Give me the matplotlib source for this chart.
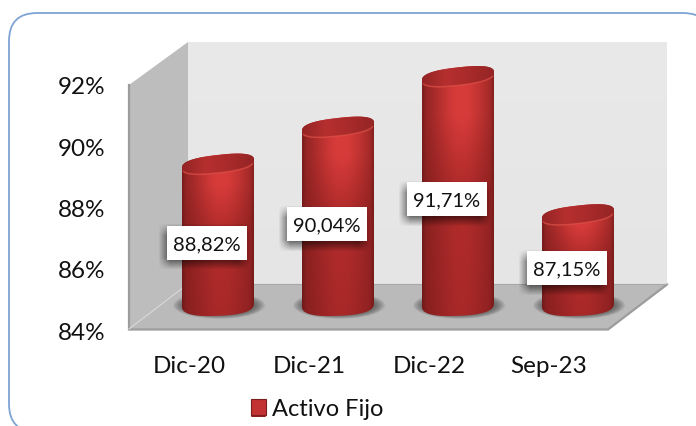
import numpy as np
import matplotlib
matplotlib.use("Agg")
import matplotlib.pyplot as plt
from matplotlib.patches import FancyBboxPatch, Polygon, Ellipse, Rectangle, Patch, PathPatch
from matplotlib.path import Path
from matplotlib.colors import LinearSegmentedColormap

categories = ["Dic-20", "Dic-21", "Dic-22", "Sep-23"]
values = [88.82, 90.04, 91.71, 87.15]
value_labels = ["88,82%", "90,04%", "91,71%", "87,15%"]
y_ticks = [84, 86, 88, 90, 92]
y_tick_labels = ["84%", "86%", "88%", "90%", "92%"]
series_name = "Activo Fijo"

FONT = "Lato"
W, H = 696, 426
plt.rcParams["font.family"] = [FONT, "DejaVu Sans"]
fig = plt.figure(figsize=(W / 100, H / 100), dpi=100, facecolor="white")


def axes_px(x0, x1, ytop, ybot, z):
    a = fig.add_axes([x0 / W, 1 - ybot / H, (x1 - x0) / W, (ybot - ytop) / H], zorder=z)
    a.patch.set_alpha(0)
    for s in a.spines.values():
        s.set_visible(False)
    return a


# ---- scene backdrop, in pixel coordinates
bg = axes_px(0, W, 0, H, 0)
bg.set_xlim(0, W)
bg.set_ylim(H, 0)
bg.axis("off")
bg.add_patch(FancyBboxPatch((9, 13), 702, 419, boxstyle="round,pad=0,rounding_size=28",
                            fc="white", ec="#7fa3d3", lw=1.3))
back = bg.imshow(np.linspace(0.91, 0.895, 64).reshape(-1, 1), cmap="gray", vmin=0, vmax=1,
                 extent=(188, 667, 284, 42), aspect="auto", zorder=2)
bg.set_xlim(0, W)
bg.set_ylim(H, 0)
bg.add_patch(Polygon([(129, 85), (188, 42), (188, 284), (129, 329)], fc="#bdbdbd", ec="none", zorder=3))
bg.add_patch(Polygon([(129, 329), (188, 284), (667, 284), (608, 329)], fc="#bababa", ec="none", zorder=3))
bg.plot([129, 129, 608, 667], [85, 329.5, 329.5, 284.5], color="#9c9c9c", lw=1.6, zorder=4, solid_joinstyle="miter")
bg.plot([129, 188], [329, 284], color="#d8d8d8", lw=0.8, zorder=4)
bg.plot([188, 667], [284, 284], color="#a8a8a8", lw=0.8, zorder=4)

# ---- front plane: tick labels
front = axes_px(129, 609, 86, 331, 1)
front.set_xlim(-0.5, 3.5)
front.set_ylim(84, 92)
front.set_xticks(range(len(categories)), categories)
front.set_yticks(y_ticks, y_tick_labels)
front.tick_params(length=0, labelsize=17.5, colors="#111111")
front.tick_params(axis="y", pad=17)
front.tick_params(axis="x", pad=18)

# ---- cylinder plane
PX_PER_VALUE = 30.3
ax = axes_px(158, 638, 310 - 8 * PX_PER_VALUE, 310, 2)
FLOOR_VALUE = 84.17
RX = 0.3
py = 1 / PX_PER_VALUE  # one pixel in value units
CAP_RY, CAP_TILT = 9 * py, 4 * py


def ellipse_pts(cx, cy, ry, tilt, t, p=0.78):
    c = np.sign(np.cos(t)) * np.abs(np.cos(t)) ** p
    s = np.sign(np.sin(t)) * np.abs(np.sin(t)) ** p
    return cx + RX * c, cy + tilt * c + ry * s


def body_rgba(n_rows):
    u = np.linspace(0, 1, 140)
    prof = np.exp(-((u - 0.55) / 0.44) ** 2)
    edge = np.clip(np.minimum(u, 1 - u) / 0.06, 0, 1) ** 0.7
    rows = np.linspace(0, 1, n_rows)  # 0 = bottom, 1 = top
    vert = np.interp(rows, [0, 0.55, 0.8, 1], [0.0, 0.25, 1.0, 1.0])
    dark = np.array([124, 28, 28]) / 255
    lo = np.array([168, 40, 40]) / 255
    hi = np.array([216, 60, 58]) / 255
    img = np.zeros((n_rows, u.size, 3))
    for i, v in enumerate(vert):
        peak = lo + (hi - lo) * v
        col = dark[None, :] + (peak - dark)[None, :] * prof[:, None]
        img[i] = col * (0.82 + 0.18 * edge[:, None])
    return img


def soft_box_alpha(w_px, h_px, blur_px, margin_px):
    xs = np.arange(-margin_px, w_px + margin_px + 1.0)
    ys = np.arange(-margin_px, h_px + margin_px + 1.0)
    ax_ = np.clip((xs + blur_px) / (2 * blur_px), 0, 1) * np.clip((w_px - xs + blur_px) / (2 * blur_px), 0, 1)
    ay_ = np.clip((ys + blur_px) / (2 * blur_px), 0, 1) * np.clip((h_px - ys + blur_px) / (2 * blur_px), 0, 1)
    return np.outer(ay_, ax_)


for i, v in enumerate(values):
    # floor shadow
    for k in range(9):
        f = 1 - k / 9
        ax.add_patch(Ellipse((i + 0.01, FLOOR_VALUE - 0.5 * py), (92 * f + 72 * (1 - f)) / 120,
                             (27 * f + 20 * (1 - f)) * py, fc="#303030", ec="none", alpha=0.075,
                             clip_on=False, zorder=1))
    # body
    t_top = np.linspace(np.pi, 0, 60)
    t_bot = np.linspace(0, -np.pi, 60)
    xb, yb = ellipse_pts(i, FLOOR_VALUE, 11 * py, 1.5 * py, t_bot)
    xt, yt = ellipse_pts(i, v, CAP_RY, CAP_TILT, t_top)
    body_path = Path(np.column_stack([np.r_[xb, xt], np.r_[yb, yt]]))
    clip = PathPatch(body_path, transform=ax.transData, fc="none", ec="none", clip_on=False)
    ax.add_patch(clip)
    im = ax.imshow(body_rgba(120), origin="lower", aspect="auto",
                   extent=(i - RX, i + RX, FLOOR_VALUE - 12 * py, v + 13 * py),
                   interpolation="bilinear", zorder=3)
    im.set_clip_path(clip)
    im.set_clip_box(fig.bbox)
    # top cap
    tt = np.linspace(0, 2 * np.pi, 120)
    xc, yc = ellipse_pts(i, v, CAP_RY, CAP_TILT, tt)
    cap_clip = Polygon(np.column_stack([xc, yc]), transform=ax.transData, fc="none", ec="none", clip_on=False)
    ax.add_patch(cap_clip)
    cap = LinearSegmentedColormap.from_list("cap", ["#942424", "#b62f2f", "#a82a2a", "#952525"])
    cim = ax.imshow(np.linspace(0, 1, 64).reshape(1, -1), cmap=cap, origin="lower", aspect="auto",
                    extent=(i - RX, i + RX, v - 13 * py, v + 13 * py),
                    interpolation="bilinear", zorder=4)
    cim.set_clip_path(cap_clip)
    cim.set_clip_box(fig.bbox)
    tl = np.linspace(-np.pi + 0.3, -0.3, 50)
    xl, yl = ellipse_pts(i, v, CAP_RY, CAP_TILT, tl)
    ax.plot(xl, yl, color="#dd5148", lw=1.1, alpha=0.7, zorder=5, solid_capstyle="round", clip_on=False)

# data labels
BOX_W_PX, BOX_H_PX = 80, 34
BOX_W, BOX_H = BOX_W_PX / 120, BOX_H_PX * py
shadow = np.zeros((BOX_H_PX + 25, BOX_W_PX + 25, 4))
shadow[..., 3] = soft_box_alpha(BOX_W_PX, BOX_H_PX, 6, 12) * 0.62
for i, (v, lab) in enumerate(zip(values, value_labels)):
    cx = i - 11 / 120
    cy = (v + FLOOR_VALUE) / 2 - 8.5 * py
    sx, sy = cx - 3 / 120, cy - 4 * py
    sim = ax.imshow(shadow, origin="lower", aspect="auto", interpolation="bilinear", zorder=6,
                    extent=(sx - (BOX_W_PX / 2 + 12.5) / 120, sx + (BOX_W_PX / 2 + 12.5) / 120,
                            sy - (BOX_H_PX / 2 + 12.5) * py, sy + (BOX_H_PX / 2 + 12.5) * py))
    sim.set_clip_box(fig.bbox)
    ax.add_patch(Rectangle((cx - BOX_W / 2, cy - BOX_H / 2), BOX_W, BOX_H, fc="white", ec="none", zorder=7, clip_on=False))
    ax.text(cx, cy, lab, ha="center", va="center_baseline", fontsize=14.5, color="#111111", zorder=8)

ax.set_xlim(-0.5, 3.5)
ax.set_ylim(84, 92)
ax.axis("off")

# legend
leg = fig.legend(handles=[Patch(fc="#c23232", ec="#7c1e1e", lw=0.8, label=series_name)],
                 loc="center", bbox_to_anchor=(317 / W, 1 - 409 / H), frameon=False,
                 fontsize=17, handlelength=0.62, handleheight=0.66, handletextpad=0.25,
                 labelcolor="#111111")

# bevel on the legend key
key = axes_px(251, 266, 401, 417, 3)
key.set_xlim(0, 1)
key.set_ylim(0, 1)
key.axis("off")
key.add_patch(Polygon([(0, 1), (1, 1), (0.5, 0.5)], fc="#e0534d", ec="none"))
key.add_patch(Polygon([(0, 0), (1, 0), (0.5, 0.5)], fc="#8a2020", ec="none"))
key.add_patch(Polygon([(0, 0), (0, 1), (0.5, 0.5)], fc="#b52c2c", ec="none"))
key.add_patch(Polygon([(1, 0), (1, 1), (0.5, 0.5)], fc="#a82828", ec="none"))

fig.savefig("out.png", dpi=100)
